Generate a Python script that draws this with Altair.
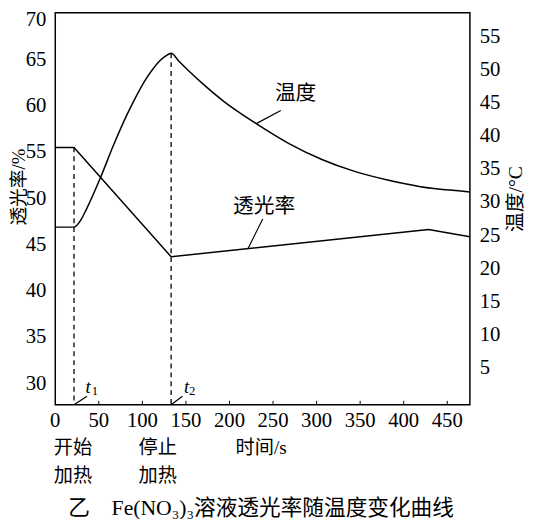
import altair as alt
import pandas as pd

# ---------------- data ----------------
# temperature curve (right axis, °C) vs time (s)
temp_t = [0, 21.5, 29, 36.5, 51.7, 66.7, 81.8, 96.9, 104, 111.9, 119.5, 127, 133,
          142, 155.2, 168.5, 193.0, 230.7, 268.3, 306.1, 343.7, 381.4, 419.2, 468.1, 476]
temp_v = [26.3, 26.3, 27.3, 29.2, 33.7, 38.6, 43.1, 47.0, 48.6, 50.1, 51.3, 52.1, 52.5,
          51.3, 49.6, 48.0, 45.3, 41.9, 38.9, 36.5, 34.7, 33.4, 32.4, 31.7, 31.6]

# transmittance curve (left axis, %) vs time (s)
trans_t = [0, 21.5, 133, 428.5, 476]
trans_v = [55.55, 55.55, 43.73, 46.68, 45.9]

t1, t2 = 21.5, 133
x_ticks = [0, 50, 100, 150, 200, 250, 300, 350, 400, 450]
left_ticks = [30, 35, 40, 45, 50, 55, 60, 65, 70]
right_ticks = [5, 10, 15, 20, 25, 30, 35, 40, 45, 50, 55]

x_dom = [0, 476]
left_dom = [27.72, 70.1]
right_dom = [-0.49, 58.6]

SERIF = "Liberation Serif"
CJK = "Noto Sans CJK SC"
MIX = "Liberation Serif, Noto Sans CJK SC"
W, H = 421, 398

# ---------------- tables ----------------
temp_df = pd.DataFrame({"t": temp_t, "v": temp_v})
trans_df = pd.DataFrame({"t": trans_t, "v": trans_v})

tick_df = pd.DataFrame({"t": x_ticks[1:], "v": [28.15] * (len(x_ticks) - 1),
                        "v2": [left_dom[0]] * (len(x_ticks) - 1)})
t1_rule = pd.DataFrame({"t": [t1], "v": [trans_v[1]], "v2": [left_dom[0]]})
t2_rule = pd.DataFrame({"t": [t2], "v": [max(temp_v)], "v2": [right_dom[0]]})

lead_left = pd.DataFrame({"t": [221.3, t1, t2], "t2": [238.2, 36.5, 146],
                          "v": [44.62, left_dom[0], left_dom[0]],
                          "v2": [47.82, 28.65, 28.65]})
lead_right = pd.DataFrame({"t": [230.7], "t2": [258.9], "v": [41.9], "v2": [43.87]})

label_trans = pd.DataFrame({"t": [239.7], "v": [49.05], "s": ["透光率"]})
heat_df = pd.DataFrame({"t": [20.4, 20.4, 117.6, 117.6, 236.3],
                        "v": [23.0, 20.02, 23.0, 20.02, 23.0],
                        "s": ["开始", "加热", "停止", "加热", "时间/s"]})
title_df = pd.DataFrame({"t": [236.3], "v": [16.5],
                         "s": ["乙\u2003Fe(NO\u2083)\u2083溶液透光率随温度变化曲线"]})
text_right = pd.DataFrame({"t": [275.9], "v": [46.33], "s": ["温度"]})

tlab = pd.DataFrame({"t": [34.7, 147.8], "v": [29.0, 29.0], "s": ["t", "t"]})
tsub = pd.DataFrame({"t": [42.0, 153.6], "v": [28.79, 28.79], "s": ["1", "2"]})

xlab_df = pd.DataFrame({"t": x_ticks, "s": [str(v) for v in x_ticks]})
ylab_l = pd.DataFrame({"v": left_ticks[:-1], "s": [str(v) for v in left_ticks[:-1]]})
ylab_l_top = pd.DataFrame({"v": left_ticks[-1:], "s": [str(v) for v in left_ticks[-1:]]})
ylab_r = pd.DataFrame({"v": right_ticks, "s": [str(v) for v in right_ticks]})
ytitle_l = pd.DataFrame({"s": ["透光率/%"]})
ytitle_r = pd.DataFrame({"s": ["温度/°C"]})

# ---------------- encodings ----------------
X = alt.X("t:Q", scale=alt.Scale(domain=x_dom, nice=False, zero=False), axis=None)
YL = alt.Y("v:Q", scale=alt.Scale(domain=left_dom, nice=False, zero=False), axis=None)
YR = alt.Y("v:Q", scale=alt.Scale(domain=right_dom, nice=False, zero=False), axis=None)

# ---------------- left-scale layers ----------------
trans_line = alt.Chart(trans_df).mark_line(color="black", strokeWidth=1.5).encode(x=X, y=YL)
t1_line = alt.Chart(t1_rule).mark_rule(color="black", strokeWidth=1.3, strokeDash=[5, 4]).encode(
    x=X, y=YL, y2="v2:Q")
ticks = alt.Chart(tick_df).mark_rule(color="black", strokeWidth=1).encode(x=X, y=YL, y2="v2:Q")
leaders_l = alt.Chart(lead_left).mark_rule(color="black", strokeWidth=1.2).encode(
    x=X, x2="t2:Q", y=YL, y2="v2:Q")
labels_l = alt.Chart(label_trans).mark_text(font=CJK, fontSize=21, color="black",
                                            align="center", baseline="middle").encode(
    x=X, y=YL, text="s:N")
heat_t = alt.Chart(heat_df).mark_text(font=MIX, fontSize=19.5, color="black", align="center",
                                      baseline="middle").encode(x=X, y=YL, text="s:N")
title_t = alt.Chart(title_df).mark_text(font=MIX, fontSize=22, color="black",
                                        align="center", baseline="middle").encode(
    x=X, y=YL, text="s:N")
t_it = alt.Chart(tlab).mark_text(font=SERIF, fontSize=19, fontStyle="italic", color="black",
                                 align="left", baseline="alphabetic").encode(x=X, y=YL, text="s:N")
t_sb = alt.Chart(tsub).mark_text(font=SERIF, fontSize=13, color="black",
                                 align="left", baseline="alphabetic").encode(x=X, y=YL, text="s:N")

# tick labels drawn as text
xlab = alt.Chart(xlab_df).mark_text(font=SERIF, fontSize=21, color="black", align="center",
                                    baseline="middle").encode(
    x=X, y=alt.value(H + 17), text="s:N")
ylab_left = alt.Chart(ylab_l).mark_text(font=SERIF, fontSize=21, color="black", align="right",
                                        baseline="middle").encode(
    x=alt.value(-9), y=YL, text="s:N")
ylab_left_top = alt.Chart(ylab_l_top).mark_text(font=SERIF, fontSize=21, color="black",
                                                align="right", baseline="middle", dy=6).encode(
    x=alt.value(-9), y=YL, text="s:N")
ytit_l = alt.Chart(ytitle_l).mark_text(font=MIX, fontSize=19, color="black", align="center",
                                       baseline="middle", angle=270).encode(
    x=alt.value(-37), y=alt.value(177), text="s:N")

left_layer = alt.layer(trans_line, t1_line, ticks, leaders_l, labels_l, heat_t, title_t,
                       t_it, t_sb, xlab, ylab_left, ylab_left_top, ytit_l)

# ---------------- right-scale layers ----------------
temp_line = alt.Chart(temp_df).mark_line(color="black", strokeWidth=1.5,
                                         interpolate="monotone").encode(x=X, y=YR)
t2_line = alt.Chart(t2_rule).mark_rule(color="black", strokeWidth=1.3, strokeDash=[5, 4]).encode(
    x=X, y=YR, y2="v2:Q")
leaders_r = alt.Chart(lead_right).mark_rule(color="black", strokeWidth=1.2).encode(
    x=X, x2="t2:Q", y=YR, y2="v2:Q")
labels_r = alt.Chart(text_right).mark_text(font=CJK, fontSize=21, color="black",
                                           align="center", baseline="middle").encode(
    x=X, y=YR, text="s:N")
ylab_right = alt.Chart(ylab_r).mark_text(font=SERIF, fontSize=21, color="black", align="left",
                                         baseline="middle").encode(
    x=alt.value(W + 10), y=YR, text="s:N")
ytit_r = alt.Chart(ytitle_r).mark_text(font=MIX, fontSize=20, color="black", align="center",
                                       baseline="middle", angle=270).encode(
    x=alt.value(W + 47), y=alt.value(189), text="s:N")

right_layer = alt.layer(temp_line, t2_line, leaders_r, labels_r, ylab_right, ytit_r)

chart = alt.layer(left_layer, right_layer).resolve_scale(y="independent").properties(
    width=W, height=H,
    padding={"left": 48, "top": 1, "right": 59, "bottom": 112},
    autosize=alt.AutoSizeParams(type="none"),
    background="white",
).configure(font=SERIF).configure_view(stroke="black", strokeWidth=1.5)

chart.save("out.html", embed_options={"renderer": "svg", "actions": False})
